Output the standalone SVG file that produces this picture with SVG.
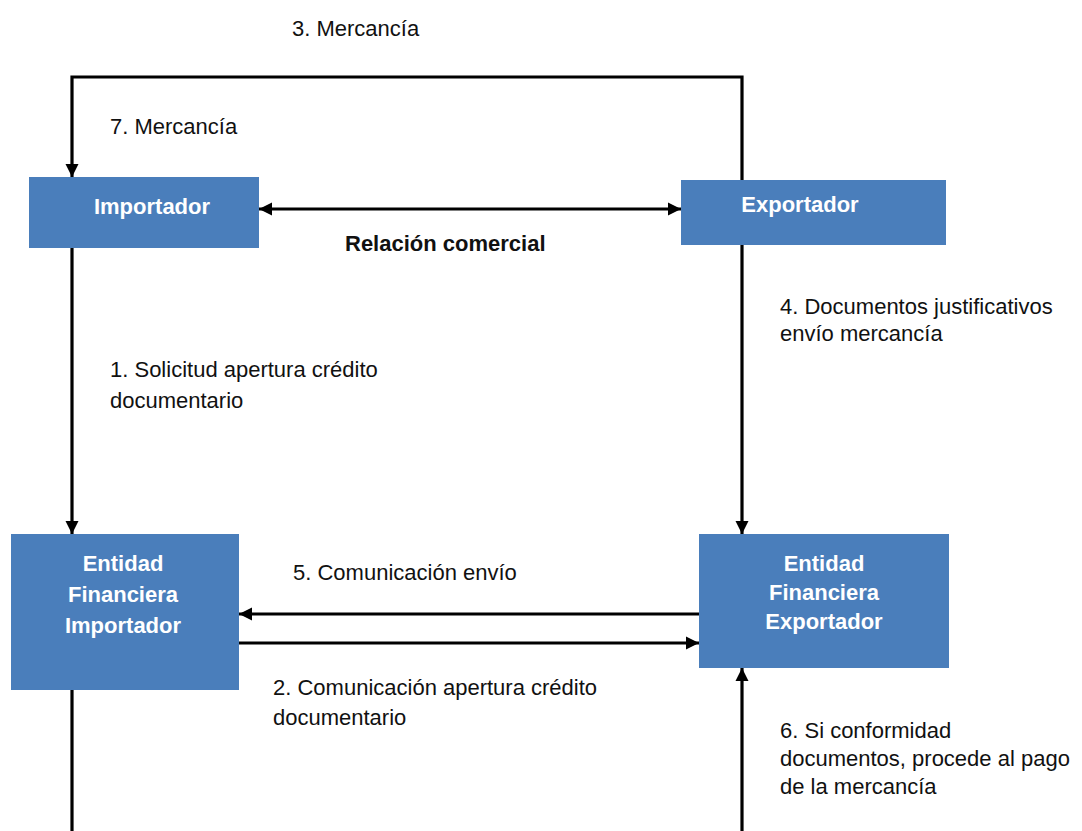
<svg xmlns="http://www.w3.org/2000/svg" width="1082" height="831" viewBox="0 0 1082 831">
<style>
.box{fill:#4a7ebb}
.bt{font-family:"Liberation Sans",Arial,sans-serif;font-size:22px;font-weight:bold;fill:#ffffff;text-anchor:middle}
.lb{font-family:"Liberation Sans",Arial,sans-serif;font-size:22px;fill:#111111}
.lbb{font-family:"Liberation Sans",Arial,sans-serif;font-size:22px;font-weight:bold;fill:#111111}
.ln{fill:none;stroke:#000000;stroke-width:3.2}
</style>
<defs>
<marker id="ah" markerUnits="userSpaceOnUse" markerWidth="14" markerHeight="14" viewBox="0 0 14 14" refX="13" refY="7" orient="auto-start-reverse">
<path d="M0,0.5 L13,7 L0,13.5 z" fill="#000000"/>
</marker>
</defs>
<rect width="1082" height="831" fill="#ffffff"/>
<g id="connectors">
<path class="ln" d="M742,180 L742,77 L72,77 L72,177" marker-end="url(#ah)"/>
<path class="ln" d="M259,209 L681,209" marker-start="url(#ah)" marker-end="url(#ah)"/>
<path class="ln" d="M72,248 L72,534" marker-end="url(#ah)"/>
<path class="ln" d="M742,245 L742,534" marker-end="url(#ah)"/>
<path class="ln" d="M699,614 L239,614" marker-end="url(#ah)"/>
<path class="ln" d="M239,643 L699,643" marker-end="url(#ah)"/>
<path class="ln" d="M72,690 L72,831"/>
<path class="ln" d="M742,831 L742,668" marker-end="url(#ah)"/>
</g>
<g id="importador">
<rect class="box" x="29" y="177" width="230" height="71"/>
<text class="bt" x="152" y="214">Importador</text>
</g>
<g id="exportador">
<rect class="box" x="681" y="180" width="265" height="65"/>
<text class="bt" x="800" y="212">Exportador</text>
</g>
<g id="entidad-importador">
<rect class="box" x="11" y="534" width="228" height="156"/>
<text class="bt" x="123" y="571">Entidad</text>
<text class="bt" x="123" y="602">Financiera</text>
<text class="bt" x="123" y="633">Importador</text>
</g>
<g id="entidad-exportador">
<rect class="box" x="699" y="534" width="250" height="134"/>
<text class="bt" x="824" y="571">Entidad</text>
<text class="bt" x="824" y="600">Financiera</text>
<text class="bt" x="824" y="629">Exportador</text>
</g>
<g id="labels">
<text class="lb" x="292" y="36">3. Mercancía</text>
<text class="lb" x="110" y="134">7. Mercancía</text>
<text class="lbb" x="345" y="251">Relación comercial</text>
<text class="lb" x="780" y="314">4. Documentos justificativos</text>
<text class="lb" x="780" y="341">envío mercancía</text>
<text class="lb" x="110" y="377">1. Solicitud apertura crédito</text>
<text class="lb" x="110" y="408">documentario</text>
<text class="lb" x="293" y="580">5. Comunicación envío</text>
<text class="lb" x="273" y="695">2. Comunicación apertura crédito</text>
<text class="lb" x="273" y="725">documentario</text>
<text class="lb" x="780" y="738">6. Si conformidad</text>
<text class="lb" x="780" y="766">documentos, procede al pago</text>
<text class="lb" x="780" y="794">de la mercancía</text>
</g>
</svg>
